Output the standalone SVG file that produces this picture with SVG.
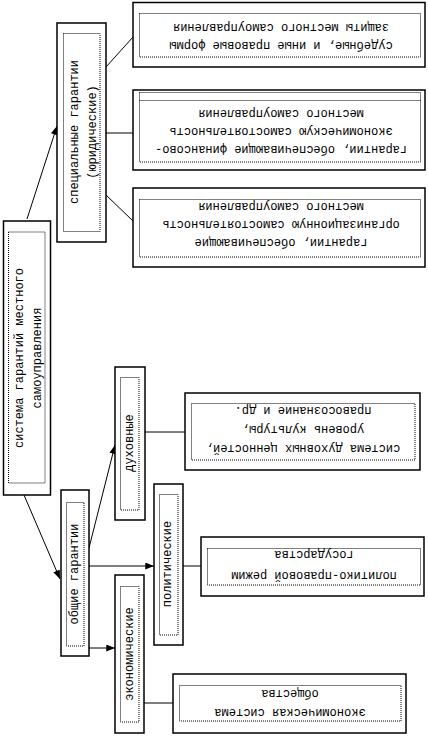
<svg xmlns="http://www.w3.org/2000/svg" width="428" height="738" viewBox="0 0 428 738">
<defs>
<marker id="ah" viewBox="0 0 10 8" refX="10" refY="4" markerWidth="9" markerHeight="7" markerUnits="userSpaceOnUse" orient="auto">
<path d="M0,0 L10,4 L0,8 Z" fill="#000"/>
</marker>
<style>
.o{fill:#fff;stroke:#000;stroke-width:1.5}
.d{fill:none;stroke:#000;stroke-width:1;stroke-dasharray:1 1}
.t{font-family:"Liberation Mono","DejaVu Sans Mono",monospace;font-size:12px;fill:#000;text-anchor:middle;dominant-baseline:central}
.c{stroke:#000;stroke-width:1;fill:none}
.a{stroke:#000;stroke-width:1;fill:none;marker-end:url(#ah)}
</style>
</defs>
<rect width="428" height="738" fill="#fff"/>
<g id="connectors">
<line class="a" x1="27" y1="219" x2="57" y2="126"/>
<line class="a" x1="24" y1="495" x2="60" y2="579"/>
<line class="c" x1="106" y1="67" x2="133" y2="37"/>
<line class="c" x1="106" y1="133" x2="133" y2="133"/>
<line class="c" x1="106" y1="195" x2="133" y2="221"/>
<line class="a" x1="89" y1="548" x2="115" y2="445"/>
<line class="a" x1="89" y1="566" x2="154" y2="566"/>
<line class="a" x1="89" y1="648" x2="115" y2="648"/>
<line class="c" x1="145" y1="432" x2="185" y2="432"/>
<line class="c" x1="183" y1="566" x2="201" y2="566"/>
<line class="c" x1="144" y1="703" x2="173" y2="703"/>
</g>
<g id="main">
<rect class="o" x="3.5" y="221" width="47" height="274"/>
<rect class="d" x="8.5" y="232" width="36.5" height="251"/>
<text class="t" x="20" y="358" transform="rotate(-90 20 358)">система гарантий местного</text>
<text class="t" x="38" y="358" transform="rotate(-90 38 358)">самоуправления</text>
</g>
<g id="special">
<rect class="o" x="57" y="23" width="49" height="219"/>
<rect class="d" x="63.5" y="33.5" width="36.5" height="198"/>
<text class="t" x="75" y="132" transform="rotate(-90 75 132)">специальные гарантии</text>
<text class="t" x="93" y="132" transform="rotate(-90 93 132)">(юридические)</text>
</g>
<g id="judicial">
<rect class="o" x="133" y="2.5" width="292" height="64.5"/>
<rect class="d" x="139.5" y="13.5" width="281" height="43.5"/>
<text class="t" x="281" y="45" transform="rotate(180 281 45)">судебные, и иные правовые формы</text>
<text class="t" x="281" y="27" transform="rotate(180 281 27)">защиты местного самоуправления</text>
</g>
<g id="financial">
<rect class="o" x="133" y="90" width="292" height="80"/>
<rect class="d" x="139.5" y="92.5" width="281" height="69.5"/>
<line class="d" x1="139.5" y1="100.5" x2="420.5" y2="100.5"/>
<text class="t" x="281" y="149" transform="rotate(180 281 149)">гарантии, обеспечивающие финансово-</text>
<text class="t" x="281" y="131" transform="rotate(180 281 131)">экономическую самостоятельность</text>
<text class="t" x="281" y="113" transform="rotate(180 281 113)">местного самоуправления</text>
</g>
<g id="organizational">
<rect class="o" x="133" y="188" width="292" height="79"/>
<rect class="d" x="139.5" y="199.5" width="281" height="57.5"/>
<text class="t" x="281" y="242" transform="rotate(180 281 242)">гарантии, обеспечивающие</text>
<text class="t" x="281" y="224" transform="rotate(180 281 224)">организационную самостоятельность</text>
<text class="t" x="281" y="206" transform="rotate(180 281 206)">местного самоуправления</text>
</g>
<g id="general">
<rect class="o" x="61" y="490" width="28" height="166"/>
<rect class="d" x="66.5" y="502.5" width="17.5" height="143.5"/>
<text class="t" x="75" y="574" transform="rotate(-90 75 574)">общие гарантии</text>
</g>
<g id="spiritual">
<rect class="o" x="115" y="367" width="30" height="153"/>
<rect class="d" x="120.5" y="377.5" width="18.5" height="132.5"/>
<text class="t" x="130" y="443" transform="rotate(-90 130 443)">духовные</text>
</g>
<g id="spiritual-values">
<rect class="o" x="185" y="393" width="235" height="77"/>
<rect class="d" x="191.5" y="403.5" width="223.5" height="56.5"/>
<text class="t" x="303" y="448" transform="rotate(180 303 448)">система духовных ценностей,</text>
<text class="t" x="303" y="429" transform="rotate(180 303 429)">уровень культуры,</text>
<text class="t" x="303" y="410" transform="rotate(180 303 410)">правосознание и др.</text>
</g>
<g id="political">
<rect class="o" x="154" y="484" width="29" height="161"/>
<rect class="d" x="159.5" y="494.5" width="18.5" height="140.5"/>
<text class="t" x="168" y="564" transform="rotate(-90 168 564)">политические</text>
</g>
<g id="political-regime">
<rect class="o" x="201" y="537" width="223" height="59"/>
<rect class="d" x="207.5" y="548.5" width="213" height="36.5"/>
<text class="t" x="314" y="575" transform="rotate(180 314 575)">политико-правовой режим</text>
<text class="t" x="314" y="554" transform="rotate(180 314 554)">государства</text>
</g>
<g id="economic">
<rect class="o" x="115" y="575" width="29" height="158"/>
<rect class="d" x="120.5" y="586.5" width="18.5" height="135.5"/>
<text class="t" x="130" y="654" transform="rotate(-90 130 654)">экономические</text>
</g>
<g id="economic-system">
<rect class="o" x="173" y="674" width="233" height="59"/>
<rect class="d" x="179.5" y="685.5" width="221.5" height="35.5"/>
<text class="t" x="290" y="712" transform="rotate(180 290 712)">экономическая система</text>
<text class="t" x="290" y="693" transform="rotate(180 290 693)">общества</text>
</g>
</svg>
